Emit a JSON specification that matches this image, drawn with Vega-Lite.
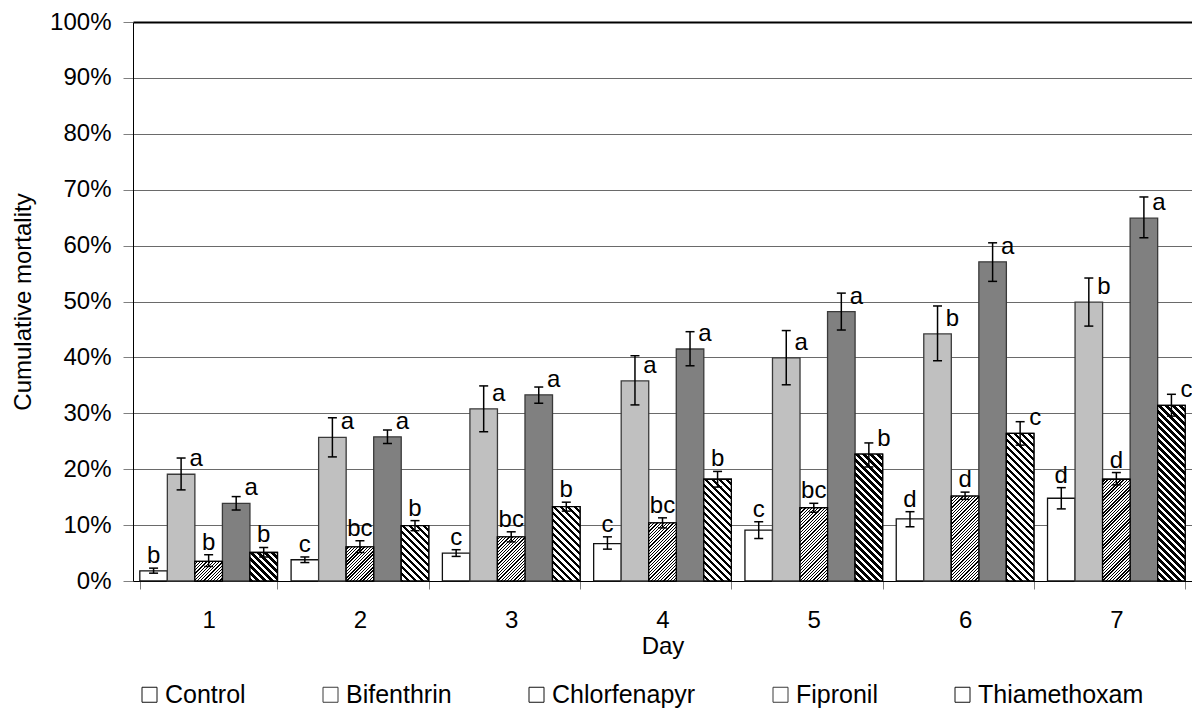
{
"$schema": "https://vega.github.io/schema/vega-lite/v6.json",
"width": 1059, "height": 559,
"autosize": {"type": "none"},
"padding": {"left": 133, "top": 22, "right": 0, "bottom": 128},
"background": "white",
"config": {"font": "Liberation Sans", "view": {"stroke": null}},
"params": [
{"name": "chlorStops", "value": [
{"offset":0,"color":"#fff"},{"offset":0.012,"color":"#fff"},{"offset":0.012,"color":"#000"},{"offset":0.02,"color":"#000"},
{"offset":0.02,"color":"#fff"},{"offset":0.032,"color":"#fff"},{"offset":0.032,"color":"#000"},{"offset":0.04,"color":"#000"},
{"offset":0.04,"color":"#fff"},{"offset":0.052,"color":"#fff"},{"offset":0.052,"color":"#000"},{"offset":0.06,"color":"#000"},
{"offset":0.06,"color":"#fff"},{"offset":0.072,"color":"#fff"},{"offset":0.072,"color":"#000"},{"offset":0.08,"color":"#000"},
{"offset":0.08,"color":"#fff"},{"offset":0.092,"color":"#fff"},{"offset":0.092,"color":"#000"},{"offset":0.1,"color":"#000"},
{"offset":0.1,"color":"#fff"},{"offset":0.112,"color":"#fff"},{"offset":0.112,"color":"#000"},{"offset":0.12,"color":"#000"},
{"offset":0.12,"color":"#fff"},{"offset":0.132,"color":"#fff"},{"offset":0.132,"color":"#000"},{"offset":0.14,"color":"#000"},
{"offset":0.14,"color":"#fff"},{"offset":0.152,"color":"#fff"},{"offset":0.152,"color":"#000"},{"offset":0.16,"color":"#000"},
{"offset":0.16,"color":"#fff"},{"offset":0.172,"color":"#fff"},{"offset":0.172,"color":"#000"},{"offset":0.18,"color":"#000"},
{"offset":0.18,"color":"#fff"},{"offset":0.192,"color":"#fff"},{"offset":0.192,"color":"#000"},{"offset":0.2,"color":"#000"},
{"offset":0.2,"color":"#fff"},{"offset":0.212,"color":"#fff"},{"offset":0.212,"color":"#000"},{"offset":0.22,"color":"#000"},
{"offset":0.22,"color":"#fff"},{"offset":0.232,"color":"#fff"},{"offset":0.232,"color":"#000"},{"offset":0.24,"color":"#000"},
{"offset":0.24,"color":"#fff"},{"offset":0.252,"color":"#fff"},{"offset":0.252,"color":"#000"},{"offset":0.26,"color":"#000"},
{"offset":0.26,"color":"#fff"},{"offset":0.272,"color":"#fff"},{"offset":0.272,"color":"#000"},{"offset":0.28,"color":"#000"},
{"offset":0.28,"color":"#fff"},{"offset":0.292,"color":"#fff"},{"offset":0.292,"color":"#000"},{"offset":0.3,"color":"#000"},
{"offset":0.3,"color":"#fff"},{"offset":0.312,"color":"#fff"},{"offset":0.312,"color":"#000"},{"offset":0.32,"color":"#000"},
{"offset":0.32,"color":"#fff"},{"offset":0.332,"color":"#fff"},{"offset":0.332,"color":"#000"},{"offset":0.34,"color":"#000"},
{"offset":0.34,"color":"#fff"},{"offset":0.352,"color":"#fff"},{"offset":0.352,"color":"#000"},{"offset":0.36,"color":"#000"},
{"offset":0.36,"color":"#fff"},{"offset":0.372,"color":"#fff"},{"offset":0.372,"color":"#000"},{"offset":0.38,"color":"#000"},
{"offset":0.38,"color":"#fff"},{"offset":0.392,"color":"#fff"},{"offset":0.392,"color":"#000"},{"offset":0.4,"color":"#000"},
{"offset":0.4,"color":"#fff"},{"offset":0.412,"color":"#fff"},{"offset":0.412,"color":"#000"},{"offset":0.42,"color":"#000"},
{"offset":0.42,"color":"#fff"},{"offset":0.432,"color":"#fff"},{"offset":0.432,"color":"#000"},{"offset":0.44,"color":"#000"},
{"offset":0.44,"color":"#fff"},{"offset":0.452,"color":"#fff"},{"offset":0.452,"color":"#000"},{"offset":0.46,"color":"#000"},
{"offset":0.46,"color":"#fff"},{"offset":0.472,"color":"#fff"},{"offset":0.472,"color":"#000"},{"offset":0.48,"color":"#000"},
{"offset":0.48,"color":"#fff"},{"offset":0.492,"color":"#fff"},{"offset":0.492,"color":"#000"},{"offset":0.5,"color":"#000"},
{"offset":0.5,"color":"#fff"},{"offset":0.512,"color":"#fff"},{"offset":0.512,"color":"#000"},{"offset":0.52,"color":"#000"},
{"offset":0.52,"color":"#fff"},{"offset":0.532,"color":"#fff"},{"offset":0.532,"color":"#000"},{"offset":0.54,"color":"#000"},
{"offset":0.54,"color":"#fff"},{"offset":0.552,"color":"#fff"},{"offset":0.552,"color":"#000"},{"offset":0.56,"color":"#000"},
{"offset":0.56,"color":"#fff"},{"offset":0.572,"color":"#fff"},{"offset":0.572,"color":"#000"},{"offset":0.58,"color":"#000"},
{"offset":0.58,"color":"#fff"},{"offset":0.592,"color":"#fff"},{"offset":0.592,"color":"#000"},{"offset":0.6,"color":"#000"},
{"offset":0.6,"color":"#fff"},{"offset":0.612,"color":"#fff"},{"offset":0.612,"color":"#000"},{"offset":0.62,"color":"#000"},
{"offset":0.62,"color":"#fff"},{"offset":0.632,"color":"#fff"},{"offset":0.632,"color":"#000"},{"offset":0.64,"color":"#000"},
{"offset":0.64,"color":"#fff"},{"offset":0.652,"color":"#fff"},{"offset":0.652,"color":"#000"},{"offset":0.66,"color":"#000"},
{"offset":0.66,"color":"#fff"},{"offset":0.672,"color":"#fff"},{"offset":0.672,"color":"#000"},{"offset":0.68,"color":"#000"},
{"offset":0.68,"color":"#fff"},{"offset":0.692,"color":"#fff"},{"offset":0.692,"color":"#000"},{"offset":0.7,"color":"#000"},
{"offset":0.7,"color":"#fff"},{"offset":0.712,"color":"#fff"},{"offset":0.712,"color":"#000"},{"offset":0.72,"color":"#000"},
{"offset":0.72,"color":"#fff"},{"offset":0.732,"color":"#fff"},{"offset":0.732,"color":"#000"},{"offset":0.74,"color":"#000"},
{"offset":0.74,"color":"#fff"},{"offset":0.752,"color":"#fff"},{"offset":0.752,"color":"#000"},{"offset":0.76,"color":"#000"},
{"offset":0.76,"color":"#fff"},{"offset":0.772,"color":"#fff"},{"offset":0.772,"color":"#000"},{"offset":0.78,"color":"#000"},
{"offset":0.78,"color":"#fff"},{"offset":0.792,"color":"#fff"},{"offset":0.792,"color":"#000"},{"offset":0.8,"color":"#000"},
{"offset":0.8,"color":"#fff"},{"offset":0.812,"color":"#fff"},{"offset":0.812,"color":"#000"},{"offset":0.82,"color":"#000"},
{"offset":0.82,"color":"#fff"},{"offset":0.832,"color":"#fff"},{"offset":0.832,"color":"#000"},{"offset":0.84,"color":"#000"},
{"offset":0.84,"color":"#fff"},{"offset":1,"color":"#fff"}
]},
{"name": "thiamStops", "value": [
{"offset":0,"color":"#fff"},{"offset":0.0125,"color":"#fff"},{"offset":0.0125,"color":"#000"},{"offset":0.025,"color":"#000"},
{"offset":0.025,"color":"#fff"},{"offset":0.0375,"color":"#fff"},{"offset":0.0375,"color":"#000"},{"offset":0.05,"color":"#000"},
{"offset":0.05,"color":"#fff"},{"offset":0.0625,"color":"#fff"},{"offset":0.0625,"color":"#000"},{"offset":0.075,"color":"#000"},
{"offset":0.075,"color":"#fff"},{"offset":0.0875,"color":"#fff"},{"offset":0.0875,"color":"#000"},{"offset":0.1,"color":"#000"},
{"offset":0.1,"color":"#fff"},{"offset":0.1125,"color":"#fff"},{"offset":0.1125,"color":"#000"},{"offset":0.125,"color":"#000"},
{"offset":0.125,"color":"#fff"},{"offset":0.1375,"color":"#fff"},{"offset":0.1375,"color":"#000"},{"offset":0.15,"color":"#000"},
{"offset":0.15,"color":"#fff"},{"offset":0.1625,"color":"#fff"},{"offset":0.1625,"color":"#000"},{"offset":0.175,"color":"#000"},
{"offset":0.175,"color":"#fff"},{"offset":0.1875,"color":"#fff"},{"offset":0.1875,"color":"#000"},{"offset":0.2,"color":"#000"},
{"offset":0.2,"color":"#fff"},{"offset":0.2125,"color":"#fff"},{"offset":0.2125,"color":"#000"},{"offset":0.225,"color":"#000"},
{"offset":0.225,"color":"#fff"},{"offset":0.2375,"color":"#fff"},{"offset":0.2375,"color":"#000"},{"offset":0.25,"color":"#000"},
{"offset":0.25,"color":"#fff"},{"offset":0.2625,"color":"#fff"},{"offset":0.2625,"color":"#000"},{"offset":0.275,"color":"#000"},
{"offset":0.275,"color":"#fff"},{"offset":0.2875,"color":"#fff"},{"offset":0.2875,"color":"#000"},{"offset":0.3,"color":"#000"},
{"offset":0.3,"color":"#fff"},{"offset":0.3125,"color":"#fff"},{"offset":0.3125,"color":"#000"},{"offset":0.325,"color":"#000"},
{"offset":0.325,"color":"#fff"},{"offset":0.3375,"color":"#fff"},{"offset":0.3375,"color":"#000"},{"offset":0.35,"color":"#000"},
{"offset":0.35,"color":"#fff"},{"offset":0.3625,"color":"#fff"},{"offset":0.3625,"color":"#000"},{"offset":0.375,"color":"#000"},
{"offset":0.375,"color":"#fff"},{"offset":0.3875,"color":"#fff"},{"offset":0.3875,"color":"#000"},{"offset":0.4,"color":"#000"},
{"offset":0.4,"color":"#fff"},{"offset":0.4125,"color":"#fff"},{"offset":0.4125,"color":"#000"},{"offset":0.425,"color":"#000"},
{"offset":0.425,"color":"#fff"},{"offset":0.4375,"color":"#fff"},{"offset":0.4375,"color":"#000"},{"offset":0.45,"color":"#000"},
{"offset":0.45,"color":"#fff"},{"offset":0.4625,"color":"#fff"},{"offset":0.4625,"color":"#000"},{"offset":0.475,"color":"#000"},
{"offset":0.475,"color":"#fff"},{"offset":0.4875,"color":"#fff"},{"offset":0.4875,"color":"#000"},{"offset":0.5,"color":"#000"},
{"offset":0.5,"color":"#fff"},{"offset":0.5125,"color":"#fff"},{"offset":0.5125,"color":"#000"},{"offset":0.525,"color":"#000"},
{"offset":0.525,"color":"#fff"},{"offset":0.5375,"color":"#fff"},{"offset":0.5375,"color":"#000"},{"offset":0.55,"color":"#000"},
{"offset":0.55,"color":"#fff"},{"offset":0.5625,"color":"#fff"},{"offset":0.5625,"color":"#000"},{"offset":0.575,"color":"#000"},
{"offset":0.575,"color":"#fff"},{"offset":0.5875,"color":"#fff"},{"offset":0.5875,"color":"#000"},{"offset":0.6,"color":"#000"},
{"offset":0.6,"color":"#fff"},{"offset":0.6125,"color":"#fff"},{"offset":0.6125,"color":"#000"},{"offset":0.625,"color":"#000"},
{"offset":0.625,"color":"#fff"},{"offset":0.6375,"color":"#fff"},{"offset":0.6375,"color":"#000"},{"offset":0.65,"color":"#000"},
{"offset":0.65,"color":"#fff"},{"offset":0.6625,"color":"#fff"},{"offset":0.6625,"color":"#000"},{"offset":0.675,"color":"#000"},
{"offset":0.675,"color":"#fff"},{"offset":0.6875,"color":"#fff"},{"offset":0.6875,"color":"#000"},{"offset":0.7,"color":"#000"},
{"offset":0.7,"color":"#fff"},{"offset":0.7125,"color":"#fff"},{"offset":0.7125,"color":"#000"},{"offset":0.725,"color":"#000"},
{"offset":0.725,"color":"#fff"},{"offset":0.7375,"color":"#fff"},{"offset":0.7375,"color":"#000"},{"offset":0.75,"color":"#000"},
{"offset":0.75,"color":"#fff"},{"offset":1,"color":"#fff"}
]}
],
"data": {"values": [
{"day":"1","series":"Control","mean":1.8,"lo":1.4,"hi":2.3,"letter":"b"},
{"day":"1","series":"Bifenthrin","mean":19.1,"lo":16.3,"hi":22.0,"letter":"a"},
{"day":"1","series":"Chlorfenapyr","mean":3.5,"lo":2.6,"hi":4.7,"letter":"b"},
{"day":"1","series":"Fipronil","mean":13.9,"lo":12.7,"hi":15.1,"letter":"a"},
{"day":"1","series":"Thiamethoxam","mean":5.1,"lo":4.3,"hi":6.0,"letter":"b"},
{"day":"2","series":"Control","mean":3.8,"lo":3.3,"hi":4.3,"letter":"c"},
{"day":"2","series":"Bifenthrin","mean":25.7,"lo":22.2,"hi":29.2,"letter":"a"},
{"day":"2","series":"Chlorfenapyr","mean":6.1,"lo":5.1,"hi":7.2,"letter":"bc"},
{"day":"2","series":"Fipronil","mean":25.8,"lo":24.6,"hi":27.0,"letter":"a"},
{"day":"2","series":"Thiamethoxam","mean":9.9,"lo":9.0,"hi":10.8,"letter":"b"},
{"day":"3","series":"Control","mean":5.0,"lo":4.4,"hi":5.6,"letter":"c"},
{"day":"3","series":"Bifenthrin","mean":30.8,"lo":26.7,"hi":34.9,"letter":"a"},
{"day":"3","series":"Chlorfenapyr","mean":7.9,"lo":7.0,"hi":8.8,"letter":"bc"},
{"day":"3","series":"Fipronil","mean":33.3,"lo":31.8,"hi":34.7,"letter":"a"},
{"day":"3","series":"Thiamethoxam","mean":13.3,"lo":12.5,"hi":14.1,"letter":"b"},
{"day":"4","series":"Control","mean":6.7,"lo":5.7,"hi":7.9,"letter":"c"},
{"day":"4","series":"Bifenthrin","mean":35.8,"lo":31.5,"hi":40.3,"letter":"a"},
{"day":"4","series":"Chlorfenapyr","mean":10.4,"lo":9.5,"hi":11.3,"letter":"bc"},
{"day":"4","series":"Fipronil","mean":41.5,"lo":38.5,"hi":44.6,"letter":"a"},
{"day":"4","series":"Thiamethoxam","mean":18.2,"lo":16.8,"hi":19.6,"letter":"b"},
{"day":"5","series":"Control","mean":9.1,"lo":7.6,"hi":10.6,"letter":"c"},
{"day":"5","series":"Bifenthrin","mean":39.9,"lo":35.1,"hi":44.8,"letter":"a"},
{"day":"5","series":"Chlorfenapyr","mean":13.1,"lo":12.3,"hi":13.9,"letter":"bc"},
{"day":"5","series":"Fipronil","mean":48.2,"lo":44.9,"hi":51.5,"letter":"a"},
{"day":"5","series":"Thiamethoxam","mean":22.7,"lo":20.4,"hi":24.7,"letter":"b"},
{"day":"6","series":"Control","mean":11.1,"lo":9.7,"hi":12.4,"letter":"d"},
{"day":"6","series":"Bifenthrin","mean":44.2,"lo":39.4,"hi":49.2,"letter":"b"},
{"day":"6","series":"Chlorfenapyr","mean":15.2,"lo":14.6,"hi":15.9,"letter":"d"},
{"day":"6","series":"Fipronil","mean":57.1,"lo":53.6,"hi":60.5,"letter":"a"},
{"day":"6","series":"Thiamethoxam","mean":26.4,"lo":24.3,"hi":28.5,"letter":"c"},
{"day":"7","series":"Control","mean":14.8,"lo":12.9,"hi":16.7,"letter":"d"},
{"day":"7","series":"Bifenthrin","mean":49.9,"lo":45.6,"hi":54.2,"letter":"b"},
{"day":"7","series":"Chlorfenapyr","mean":18.2,"lo":17.2,"hi":19.4,"letter":"d"},
{"day":"7","series":"Fipronil","mean":64.9,"lo":61.4,"hi":68.7,"letter":"a"},
{"day":"7","series":"Thiamethoxam","mean":31.4,"lo":29.5,"hi":33.4,"letter":"c"}
]},
"layer": [
{"mark": {"type": "bar", "strokeWidth": 1.3,
  "fill": {"expr": "datum.series === 'Bifenthrin' ? '#c0c0c0' : datum.series === 'Fipronil' ? '#808080' : '#ffffff'"}},
 "encoding": {
  "x": {"field": "day", "type": "ordinal", "scale": {"paddingInner": 0.09, "paddingOuter": 0.045},
   "axis": {"title": "Day", "labelAngle": 0, "tickBand": "extent", "tickSize": 8, "tickColor": "#808080", "domainColor": "#000", "domainWidth": 1, "labelFontSize": 24, "labelPadding": 19, "labelColor": "#000", "titleFontSize": 24, "titleFontWeight": "normal", "titleColor": "#000", "titlePadding": 2, "grid": false}},
  "xOffset": {"field": "series", "type": "nominal", "scale": {"domain": ["Control","Bifenthrin","Chlorfenapyr","Fipronil","Thiamethoxam"], "paddingInner": 0, "paddingOuter": 0}},
  "y": {"field": "mean", "type": "quantitative", "title": "Cumulative mortality", "scale": {"domain": [0, 100]},
   "axis": {"values": [0,10,20,30,40,50,60,70,80,90,100], "labelExpr": "datum.value + '%'", "tickSize": 10, "tickColor": "#808080", "domainColor": "#000", "labelFontSize": 24, "labelPadding": 12, "labelColor": "#000", "titleFontSize": 24, "titleFontWeight": "normal", "titleColor": "#000", "titlePadding": 14, "grid": true,
    "gridColor": {"condition": {"test": "datum.value === 100", "value": "#000"}, "value": "#6a6a6a"},
    "gridWidth": {"condition": {"test": "datum.value === 100", "value": 2}, "value": 1}}},
  "stroke": {"field": "series", "type": "nominal",
   "scale": {"domain": ["Control","Bifenthrin","Chlorfenapyr","Fipronil","Thiamethoxam"], "range": ["#111111","#3a3a3a","#111111","#3a3a3a","#111111"]},
   "legend": {"orient": "none", "legendX": 4, "legendY": 660, "direction": "horizontal", "columns": 5, "title": null, "symbolType": "square", "symbolSize": 225, "symbolStrokeWidth": 1, "labelFontSize": 25, "labelColor": "#000", "labelOffset": 3, "labelLimit": 400, "columnPadding": 72, "padding": 0,
    "encode": {"symbols": {
      "strokeWidth": {"value": 1},
      "fill": {"value": {"expr": "datum.value === 'Chlorfenapyr' ? {gradient: 'linear', x1: 0, y1: 0, x2: 5.333, y2: 5.333, stops: chlorStops} : datum.value === 'Thiamethoxam' ? {gradient: 'linear', x1: 1, y1: 0, x2: -8.333, y2: 9.333, stops: thiamStops} : {gradient: 'linear', x1: 0, y1: 0, x2: 1, y2: 0, stops: [{offset: 0, color: datum.value === 'Bifenthrin' ? '#c0c0c0' : datum.value === 'Fipronil' ? '#808080' : '#ffffff'}, {offset: 1, color: datum.value === 'Bifenthrin' ? '#c0c0c0' : datum.value === 'Fipronil' ? '#808080' : '#ffffff'}]}"}}
    }}}}
 }},
{"transform": [{"filter": "datum.series === 'Chlorfenapyr'"}],
 "mark": {"type": "bar", "stroke": "#000", "strokeWidth": 1.3,
  "fill": {"expr": "{gradient: 'linear', x1: 0, y1: 0, x2: 160 * bandwidth('xOffset') / (pow(bandwidth('xOffset'), 2) + pow(scale('y', 0) - scale('y', datum.mean), 2)), y2: 160 * (scale('y', 0) - scale('y', datum.mean)) / (pow(bandwidth('xOffset'), 2) + pow(scale('y', 0) - scale('y', datum.mean), 2)), stops: chlorStops}"}},
 "encoding": {
  "x": {"field": "day", "type": "ordinal"},
  "xOffset": {"field": "series", "type": "nominal"},
  "y": {"field": "mean", "type": "quantitative", "title": "Cumulative mortality"}
 }},
{"transform": [{"filter": "datum.series === 'Thiamethoxam'"}],
 "mark": {"type": "bar", "stroke": "#000", "strokeWidth": 1.3,
  "fill": {"expr": "{gradient: 'linear', x1: 1, y1: 0, x2: 1 - 280 * bandwidth('xOffset') / (pow(bandwidth('xOffset'), 2) + pow(scale('y', 0) - scale('y', datum.mean), 2)), y2: 280 * (scale('y', 0) - scale('y', datum.mean)) / (pow(bandwidth('xOffset'), 2) + pow(scale('y', 0) - scale('y', datum.mean), 2)), stops: thiamStops}"}},
 "encoding": {
  "x": {"field": "day", "type": "ordinal"},
  "xOffset": {"field": "series", "type": "nominal"},
  "y": {"field": "mean", "type": "quantitative", "title": "Cumulative mortality"}
 }},
{"mark": {"type": "rule", "color": "#000", "strokeWidth": 1.5},
 "encoding": {
  "x": {"field": "day", "type": "ordinal"},
  "xOffset": {"field": "series", "type": "nominal"},
  "y": {"field": "lo", "type": "quantitative", "title": "Cumulative mortality"},
  "y2": {"field": "hi"}
 }},
{"mark": {"type": "tick", "color": "#000", "thickness": 1.5, "size": 9, "opacity": 1},
 "encoding": {
  "x": {"field": "day", "type": "ordinal"},
  "xOffset": {"field": "series", "type": "nominal"},
  "y": {"field": "hi", "type": "quantitative", "title": "Cumulative mortality"}
 }},
{"mark": {"type": "tick", "color": "#000", "thickness": 1.5, "size": 9, "opacity": 1},
 "encoding": {
  "x": {"field": "day", "type": "ordinal"},
  "xOffset": {"field": "series", "type": "nominal"},
  "y": {"field": "lo", "type": "quantitative", "title": "Cumulative mortality"}
 }},
{"transform": [{"filter": "!(datum.series === 'Bifenthrin' || datum.series === 'Fipronil' || (datum.series === 'Thiamethoxam' && toNumber(datum.day) >= 5))"}],
 "mark": {"type": "text", "fontSize": 24, "color": "#000", "align": "center", "baseline": "alphabetic", "dy": -5},
 "encoding": {
  "x": {"field": "day", "type": "ordinal"},
  "xOffset": {"field": "series", "type": "nominal"},
  "y": {"field": "hi", "type": "quantitative", "title": "Cumulative mortality"},
  "text": {"field": "letter"}
 }},
{"transform": [{"filter": "datum.series === 'Bifenthrin' || datum.series === 'Fipronil' || (datum.series === 'Thiamethoxam' && toNumber(datum.day) >= 5)"}],
 "mark": {"type": "text", "fontSize": 24, "color": "#000", "align": "center", "baseline": "alphabetic", "dx": 15, "dy": -8},
 "encoding": {
  "x": {"field": "day", "type": "ordinal"},
  "xOffset": {"field": "series", "type": "nominal"},
  "y": {"field": "mean", "type": "quantitative", "title": "Cumulative mortality"},
  "text": {"field": "letter"}
 }}
]
}
